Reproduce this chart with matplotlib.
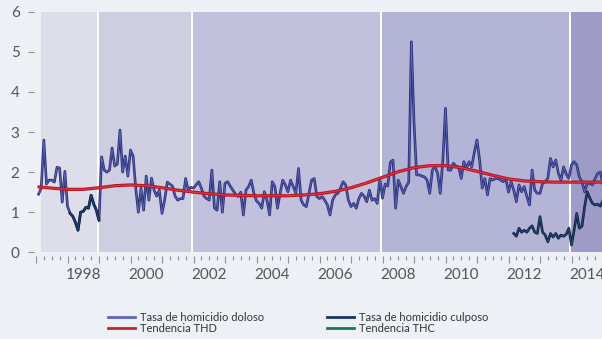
import numpy as np
import matplotlib
matplotlib.use("Agg")
import matplotlib.pyplot as plt
import matplotlib.patheffects as pe
from matplotlib.lines import Line2D
from matplotlib.ticker import FixedLocator, FuncFormatter

plt.rcParams['font.family'] = ['Lato', 'DejaVu Sans']

# ---------------- data ----------------
start_year = 1997.083          # first monthly observation (Feb 1997)
# Tasa de homicidio doloso, monthly
doloso = [
    1.45, 1.6, 2.8, 1.7, 1.8, 1.8, 1.75, 2.12, 2.1, 1.25, 2.02, 1.15,
    0.97, 0.9, 0.75, 0.55, 1.0, 1.02, 1.12, 1.1, 1.42, 1.2, 1.05, 0.8,
    2.38, 2.05, 2.0, 2.05, 2.6, 2.15, 2.2, 3.05, 2.0, 2.4, 1.9, 2.55,
    2.4, 1.6, 1.0, 1.6, 1.05, 1.9, 1.3, 1.85, 1.55, 1.4, 1.55, 0.97,
    1.3, 1.75, 1.7, 1.65, 1.4, 1.3, 1.34, 1.34, 1.84, 1.55, 1.62, 1.6,
    1.68, 1.76, 1.6, 1.4, 1.34, 1.3, 2.05, 1.1, 1.05, 1.76, 1.0, 1.72,
    1.76, 1.65, 1.55, 1.45, 1.39, 1.5, 0.93, 1.55, 1.64, 1.8, 1.47, 1.28,
    1.22, 1.1, 1.51, 1.3, 0.93, 1.76, 1.64, 1.1, 1.47, 1.8, 1.68, 1.51,
    1.8, 1.64, 1.47, 2.09, 1.3, 1.18, 1.14, 1.47, 1.8, 1.84, 1.39, 1.34,
    1.39, 1.3, 1.18, 0.93, 1.3, 1.43, 1.47, 1.6, 1.76, 1.68, 1.3, 1.14,
    1.22, 1.1, 1.34, 1.47, 1.4, 1.26, 1.55, 1.3, 1.34, 1.22, 1.85, 1.35,
    1.7, 1.65, 2.25, 2.3, 1.1, 1.8, 1.64, 1.47, 1.64, 1.75, 5.25, 3.25,
    1.93, 1.93, 1.9, 1.88, 1.8, 1.47, 2.05, 2.14, 1.97, 1.47, 2.3, 3.59,
    2.05, 2.05, 2.22, 2.15, 2.13, 1.84, 2.26, 2.1, 2.26, 2.13, 2.5, 2.8,
    2.3, 1.6, 1.84, 1.43, 1.84, 1.8, 1.84, 1.84, 1.8, 1.76, 1.84, 1.5,
    1.76, 1.55, 1.26, 1.68, 1.51, 1.64, 1.39, 1.18, 2.05, 1.55, 1.47, 1.47,
    1.72, 1.76, 1.85, 2.34, 2.13, 2.3, 1.97, 1.8, 2.13, 1.95, 1.84, 2.18,
    2.26, 2.18, 1.88, 1.76, 1.51, 1.72, 1.72, 1.68, 1.84, 1.97, 2.0, 1.68,
]
# Tasa de homicidio culposo, two observed stretches
culposo_a_start = 12
culposo_a = [0.97, 0.9, 0.75, 0.55, 1.0, 1.02, 1.12, 1.1, 1.42, 1.2, 1.05, 0.8]
culposo_b_start = 181
culposo_b = [0.47, 0.4, 0.6, 0.5, 0.55, 0.5, 0.6, 0.66, 0.5, 0.47, 0.89, 0.5,
             0.43, 0.26, 0.47, 0.38, 0.47, 0.35, 0.43, 0.4, 0.45, 0.6, 0.18, 0.55,
             0.97, 0.6, 0.65, 1.14, 1.51, 1.35, 1.22, 1.18, 1.2, 1.15, 1.3]
# Tendencia THD, read every half year
trend_years = [1997.1, 1997.5, 1998.0, 1998.5, 1999.0, 1999.5, 2000.0, 2000.5,
               2001.0, 2001.5, 2002.0, 2002.5, 2003.0, 2003.5, 2004.0, 2004.5,
               2005.0, 2005.5, 2006.0, 2006.5, 2007.0, 2007.5, 2008.0, 2008.5,
               2009.0, 2009.5, 2010.0, 2010.5, 2011.0, 2011.5, 2012.0, 2012.5,
               2013.0, 2013.5, 2014.0, 2014.5, 2015.0]
trend_thd = [1.63, 1.60, 1.57, 1.57, 1.61, 1.66, 1.68, 1.66,
             1.61, 1.55, 1.50, 1.46, 1.43, 1.42, 1.41, 1.41,
             1.41, 1.43, 1.46, 1.52, 1.61, 1.73, 1.87, 2.01,
             2.11, 2.16, 2.16, 2.11, 2.02, 1.92, 1.83, 1.78,
             1.76, 1.75, 1.75, 1.75, 1.75]
# background periods
period_edges = [1997.15, 1998.96, 2001.95, 2007.95, 2013.95, 2015.5]
period_colors = ['#dedeea', '#cdcee1', '#c1c1dd', '#b4b4d6', '#9e9bc7']
year_labels = ['1998', '2000', '2002', '2004', '2006', '2008', '2010', '2012', '2014']
legend_labels = ['Tasa de homicidio doloso', 'Tendencia THD',
                 'Tasa de homicidio culposo', 'Tendencia THC']

# ---------------- figure ----------------
W, H = 602, 339
fig = plt.figure(figsize=(W / 100, H / 100), dpi=100)
bg = '#edf0f4'
fig.patch.set_facecolor(bg)
ax = fig.add_axes([36 / W, (H - 252.3) / H, (W - 36) / W, (252.3 - 11.7) / H])
ax.set_facecolor(bg)

n = len(doloso)
t = start_year + np.arange(n) / 12.0
dol = np.array(doloso, dtype=float)
cul = np.full(n, np.nan)
cul[culposo_a_start:culposo_a_start + len(culposo_a)] = culposo_a
cul[culposo_b_start:culposo_b_start + len(culposo_b)] = culposo_b

for i in range(len(period_colors)):
    ax.axvspan(period_edges[i], period_edges[i + 1], color=period_colors[i], lw=0, zorder=0)
for e in period_edges[1:-1]:
    ax.axvline(e, color='white', lw=1.4, zorder=0.5)

ax.plot(t, dol, color='#6068b4', lw=0.6, zorder=2, solid_joinstyle='round',
        path_effects=[pe.Stroke(linewidth=1.9, foreground='#2a2f78'), pe.Normal()])
ax.plot(trend_years, trend_thd, color='#de3c46', lw=0.8, zorder=3,
        path_effects=[pe.Stroke(linewidth=2.3, foreground='#b8121f'), pe.Normal()])
ax.plot(t, cul, color='#2f4d75', lw=0.6, zorder=4, solid_joinstyle='round',
        path_effects=[pe.Stroke(linewidth=1.9, foreground='#0c2145'), pe.Normal()])

ax.set_xlim(1997.0, 1997.0 + 566 / 31.5)
ax.set_ylim(0, 6)

for s in ['top', 'right']:
    ax.spines[s].set_visible(False)
ax.spines['left'].set_position(('outward', 1.5))
ax.spines['bottom'].set_position(('outward', 2.7))
ax.spines['left'].set_visible(False)
ax.spines['bottom'].set_visible(False)

ax.set_yticks(range(0, 7))
ax.tick_params(axis='y', length=4.3, width=0.8, color='#8f8f8f', pad=6.0,
               labelsize=11, labelcolor='#555555')

years = np.arange(1997, 2016)
ax.xaxis.set_major_locator(FixedLocator(years))
ax.xaxis.set_major_formatter(FuncFormatter(lambda v, p: ''))
quarters = [y + q for y in range(1997, 2016) for q in (0.25, 0.5, 0.75)]
ax.xaxis.set_minor_locator(FixedLocator(quarters))
label_pos = {int(l) + 0.5: l for l in year_labels}
ax.xaxis.set_minor_formatter(FuncFormatter(lambda v, p: label_pos.get(round(v, 2), '')))
ax.tick_params(axis='x', which='major', length=5.0, width=0.8, color='#8f8f8f')
ax.tick_params(axis='x', which='minor', length=2.9, width=0.8, color='#8f8f8f',
               pad=6.0, labelsize=11, labelcolor='#555555')

handles = [Line2D([], [], color='#5b66c0', lw=2),
           Line2D([], [], color='#c8202f', lw=2),
           Line2D([], [], color='#17365f', lw=2),
           Line2D([], [], color='#177a55', lw=2)]
fig.legend(handles, legend_labels, ncol=2, frameon=False, loc='center left',
           bbox_to_anchor=(102 / W, 1 - 323 / H), fontsize=8, handlelength=2.5,
           handletextpad=0.45, columnspacing=5.6, labelspacing=0.05, borderpad=0,
           labelcolor='#333333')

fig.savefig('out.png', dpi=100, facecolor=bg)
